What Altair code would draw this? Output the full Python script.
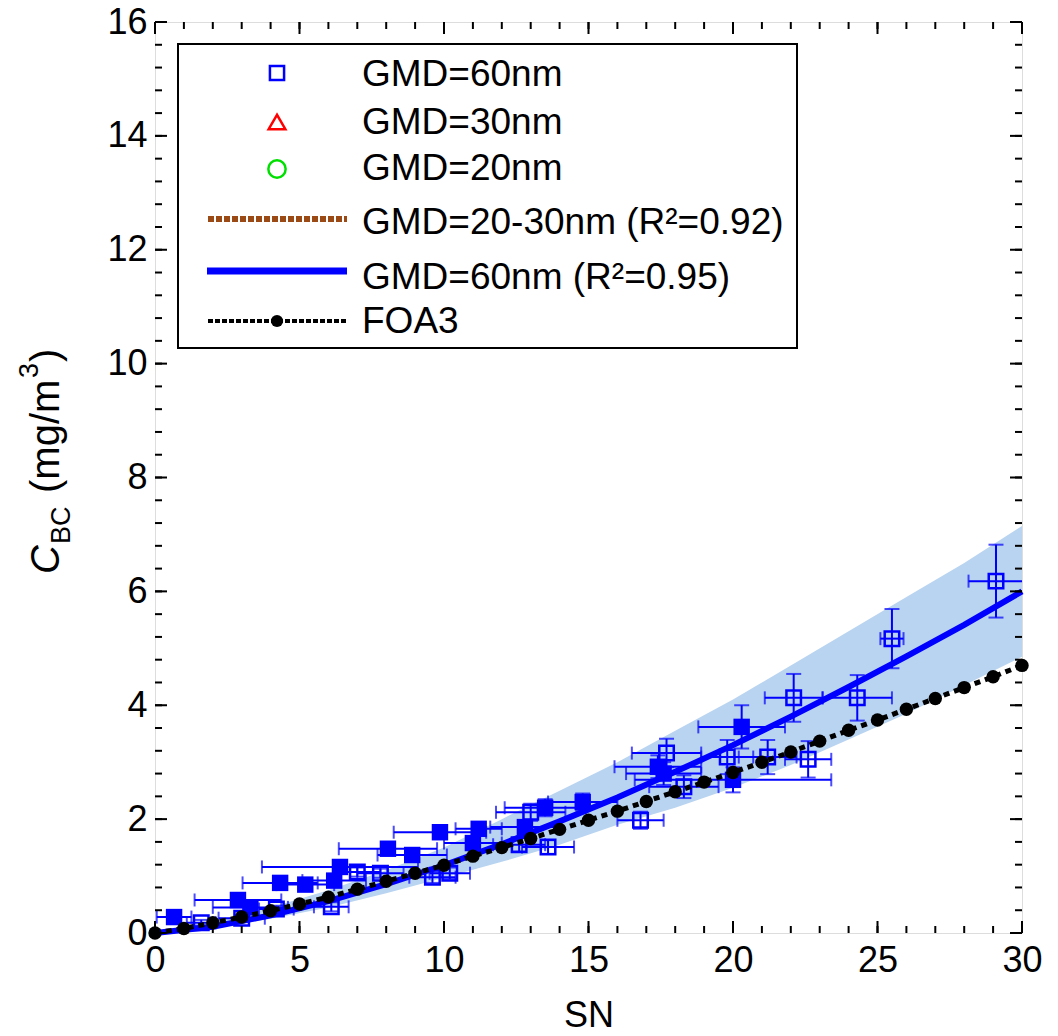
import altair as alt
import pandas as pd

FONT = "Liberation Sans"
BLUE = "#0000FF"

# ---------------- data ----------------
foa_sn = list(range(31))
foa_c = [0.0, 0.08, 0.18, 0.28, 0.39, 0.51, 0.63, 0.77, 0.91, 1.05, 1.19, 1.35, 1.50, 1.66,
         1.82, 1.98, 2.14, 2.31, 2.48, 2.65, 2.82, 3.00, 3.18, 3.37, 3.56, 3.74, 3.93, 4.12,
         4.31, 4.50, 4.70]

fit_sn = [0, 2, 4, 6, 8, 10, 12, 14, 16, 18, 20, 22, 24, 26, 28, 30]
fit_c = [0.0, 0.11, 0.31, 0.56, 0.86, 1.19, 1.56, 1.96, 2.38, 2.83, 3.30, 3.80, 4.32, 4.86, 5.41, 6.00]
band_hi = [0.0, 0.2, 0.45, 0.75, 1.1, 1.5, 2.0, 2.5, 3.0, 3.55, 4.1, 4.7, 5.3, 5.9, 6.5, 7.15]
band_lo = [0.0, 0.08, 0.25, 0.45, 0.7, 0.97, 1.25, 1.55, 1.9, 2.2, 2.55, 2.95, 3.4, 3.85, 4.35, 4.85]

sn_f = [0.66, 2.87, 3.3, 4.33, 5.2, 6.2, 6.4, 8.06, 8.9, 9.86, 11.0, 11.2, 12.8, 13.5, 14.8, 17.4, 17.6, 20.0, 20.3]
c_f = [0.28, 0.58, 0.45, 0.88, 0.85, 0.92, 1.16, 1.48, 1.37, 1.77, 1.58, 1.83, 1.86, 2.2, 2.3, 2.92, 2.8, 2.69, 3.62]
xerr_f = [0.6, 1.5, 1.3, 1.3, 1.0, 1.1, 2.7, 1.7, 1.2, 1.6, 1.0, 0.8, 1.2, 1.4, 1.2, 1.5, 1.3, 3.4, 1.5]
yerr_f = [0.06, 0.08, 0.08, 0.07, 0.07, 0.08, 0.09, 0.1, 0.1, 0.12, 0.1, 0.1, 0.12, 0.15, 0.15, 0.2, 0.2, 0.22, 0.38]

sn_o = [1.6, 3.0, 4.2, 6.1, 7.0, 7.8, 9.6, 10.2, 12.6, 13.0, 13.6, 16.8, 17.7, 18.3, 19.8, 21.2, 22.6, 22.1, 24.3, 25.5, 29.1]
c_o = [0.18, 0.26, 0.42, 0.46, 1.07, 1.05, 0.98, 1.05, 1.55, 2.12, 1.51, 1.98, 3.16, 2.57, 3.09, 3.09, 3.05, 4.13, 4.13, 5.17, 6.18]
xerr_o = [0.5, 0.8, 0.6, 0.6, 0.8, 0.8, 0.8, 0.7, 0.9, 1.2, 0.9, 0.8, 1.2, 1.2, 0.9, 1.0, 0.8, 1.0, 1.2, 0.4, 0.95]
yerr_o = [0.05, 0.06, 0.06, 0.08, 0.08, 0.08, 0.1, 0.1, 0.12, 0.15, 0.12, 0.15, 0.25, 0.2, 0.3, 0.3, 0.32, 0.42, 0.4, 0.52, 0.64]

x_major = [0, 5, 10, 15, 20, 25, 30]
x_minor = list(range(31))
y_major = [0, 2, 4, 6, 8, 10, 12, 14, 16]
y_minor = [round(i * 0.4, 1) for i in range(41)]

legend_labels = ["GMD=60nm", "GMD=30nm", "GMD=20nm", "GMD=20-30nm (R\u00b2=0.92)",
                 "GMD=60nm (R\u00b2=0.95)", "FOA3"]

# ---------------- layout ----------------
W, H = 867, 911
FS = 36

xscale = alt.Scale(domain=[0, 30], nice=False, zero=False)
yscale = alt.Scale(domain=[0, 16], nice=False, zero=False)
xaxis = alt.Axis(values=x_major, ticks=False, domain=False, grid=False, labelFont=FONT,
                 labelFontSize=FS, labelColor="black", labelPadding=10, labelFlush=False,
                 title="SN", titleFont=FONT, titleFontSize=FS, titleFontWeight="normal",
                 titleColor="black", titlePadding=20)
yaxis = alt.Axis(values=y_major, ticks=False, domain=False, grid=False, labelFont=FONT,
                 labelFontSize=FS, labelColor="black", labelPadding=8, labelFlush=False,
                 title=None)


def X(f):
    return alt.X(f, type="quantitative", scale=xscale, axis=xaxis)


def Y(f):
    return alt.Y(f, type="quantitative", scale=yscale, axis=yaxis)


df_fit = pd.DataFrame({"sn": fit_sn, "c": fit_c, "lo": band_lo, "hi": band_hi})
df_foa = pd.DataFrame({"sn": foa_sn, "c": foa_c})


def pts(sn, c, xe, ye):
    d = pd.DataFrame({"sn": sn, "c": c, "xe": xe, "ye": ye})
    d["xlo"] = d.sn - d.xe
    d["xhi"] = d.sn + d.xe
    d["ylo"] = d.c - d.ye
    d["yhi"] = d.c + d.ye
    return d


df_f = pts(sn_f, c_f, xerr_f, yerr_f)
df_o = pts(sn_o, c_o, xerr_o, yerr_o)
df_all = pd.concat([df_f, df_o], ignore_index=True)

xcaps = pd.concat([pd.DataFrame({"x": df_all.xlo, "y": df_all.c}),
                   pd.DataFrame({"x": df_all.xhi, "y": df_all.c})], ignore_index=True)
ycaps = pd.concat([pd.DataFrame({"x": df_all.sn, "y": df_all.ylo}),
                   pd.DataFrame({"x": df_all.sn, "y": df_all.yhi})], ignore_index=True)

band = alt.Chart(df_fit).mark_area(color="#B9D4F0", opacity=1).encode(
    x=X("sn"), y=Y("lo"), y2=alt.Y2("hi"))
fit = alt.Chart(df_fit).mark_line(color=BLUE, strokeWidth=6).encode(x=X("sn"), y=Y("c"))

xbars = alt.Chart(df_all).mark_rule(color=BLUE, strokeWidth=2, clip=True).encode(
    x=X("xlo"), x2=alt.X2("xhi"), y=Y("c"))
ybars = alt.Chart(df_all).mark_rule(color=BLUE, strokeWidth=2, clip=True).encode(
    x=X("sn"), y=Y("ylo"), y2=alt.Y2("yhi"))
xcap = alt.Chart(xcaps).mark_tick(color=BLUE, orient="vertical", size=13, thickness=2, clip=True).encode(
    x=X("x"), y=Y("y"))
ycap = alt.Chart(ycaps).mark_tick(color=BLUE, orient="horizontal", size=15, thickness=2, clip=True).encode(
    x=X("x"), y=Y("y"))

filled = alt.Chart(df_f).mark_point(shape="square", filled=True, color=BLUE, size=270, opacity=1).encode(
    x=X("sn"), y=Y("c"))
opened = alt.Chart(df_o).mark_point(shape="square", filled=False, color=BLUE, size=210,
                                    strokeWidth=2.5, opacity=1).encode(x=X("sn"), y=Y("c"))

foa_line = alt.Chart(df_foa).mark_line(color="black", strokeWidth=5, strokeDash=[6, 5]).encode(
    x=X("sn"), y=Y("c"))
foa_pts = alt.Chart(df_foa).mark_circle(color="black", size=180, opacity=1).encode(
    x=X("sn"), y=Y("c"))

# inward ticks on all four sides
dxM = pd.DataFrame({"v": x_major})
dxm = pd.DataFrame({"v": x_minor})
dyM = pd.DataFrame({"v": y_major})
dym = pd.DataFrame({"v": y_minor})
tick_layers = []
for d, L in [(dxM, 12), (dxm, 7)]:
    tick_layers.append(alt.Chart(d).mark_rule(color="black", strokeWidth=2).encode(
        x=X("v"), y=alt.value(H), y2=alt.value(H - L)))
    tick_layers.append(alt.Chart(d).mark_rule(color="black", strokeWidth=2).encode(
        x=X("v"), y=alt.value(0), y2=alt.value(L)))
for d, L in [(dyM, 12), (dym, 7)]:
    tick_layers.append(alt.Chart(d).mark_rule(color="black", strokeWidth=2).encode(
        y=Y("v"), x=alt.value(0), x2=alt.value(L)))
    tick_layers.append(alt.Chart(d).mark_rule(color="black", strokeWidth=2).encode(
        y=Y("v"), x=alt.value(W), x2=alt.value(W - L)))

# ---------------- legend ----------------
one = pd.DataFrame({"a": [0]})
leg = [
    alt.Chart(one).mark_rect(fill="white", stroke="black", strokeWidth=2).encode(
        x=alt.value(23), x2=alt.value(642), y=alt.value(22), y2=alt.value(326)),
    alt.Chart(one).mark_point(shape="square", filled=False, color=BLUE, size=200, strokeWidth=2.5, opacity=1).encode(
        x=alt.value(122), y=alt.value(51)),
    alt.Chart(one).mark_point(shape="triangle-up", filled=False, color="#FF0000", size=280, strokeWidth=2.5, opacity=1).encode(
        x=alt.value(122), y=alt.value(100)),
    alt.Chart(one).mark_point(shape="circle", filled=False, color="#00E000", size=300, strokeWidth=2.5, opacity=1).encode(
        x=alt.value(122), y=alt.value(147)),
    alt.Chart(one).mark_rule(color="#9B4A16", strokeWidth=6, strokeDash=[6, 2]).encode(
        x=alt.value(53), x2=alt.value(192), y=alt.value(197)),
    alt.Chart(one).mark_rule(color=BLUE, strokeWidth=7).encode(
        x=alt.value(52), x2=alt.value(192), y=alt.value(249)),
    alt.Chart(one).mark_rule(color="black", strokeWidth=4, strokeDash=[5, 2]).encode(
        x=alt.value(53), x2=alt.value(192), y=alt.value(299)),
    alt.Chart(one).mark_circle(color="black", size=150, opacity=1).encode(
        x=alt.value(122), y=alt.value(299)),
]
leg_y = [53, 101, 147, 201, 256, 300]
for lab, yy in zip(legend_labels, leg_y):
    leg.append(alt.Chart(one).mark_text(text=lab, font=FONT, fontSize=37, align="left",
                                        baseline="middle", color="black").encode(
        x=alt.value(207), y=alt.value(yy)))

# ---------------- y-axis title (C_BC (mg/m^3)) ----------------
ytitle = []
for txt, xx, yy, fs, style in [("C", -108, 552, 40, "italic"), ("BC", -93, 522, 27, "normal"),
                               ("(mg/m", -108, 471, 40, "normal"), ("3", -125, 356, 27, "normal"),
                               (")", -108, 340, 40, "normal")]:
    ytitle.append(alt.Chart(one).mark_text(text=txt, font=FONT, fontSize=fs, fontStyle=style,
                                           angle=270, align="left", baseline="middle",
                                           color="black").encode(x=alt.value(xx), y=alt.value(yy)))

chart = alt.layer(band, fit, xbars, ybars, xcap, ycap, filled, opened, foa_line, foa_pts,
                  *tick_layers, *leg, *ytitle).properties(
    width=W, height=H,
    autosize=alt.AutoSizeParams(type="none"),
    padding={"left": 155, "top": 22, "right": 36, "bottom": 103},
).configure_view(stroke="black", strokeWidth=2).configure(background="white")

chart.save("out.html", embed_options={"renderer": "svg", "actions": False})
